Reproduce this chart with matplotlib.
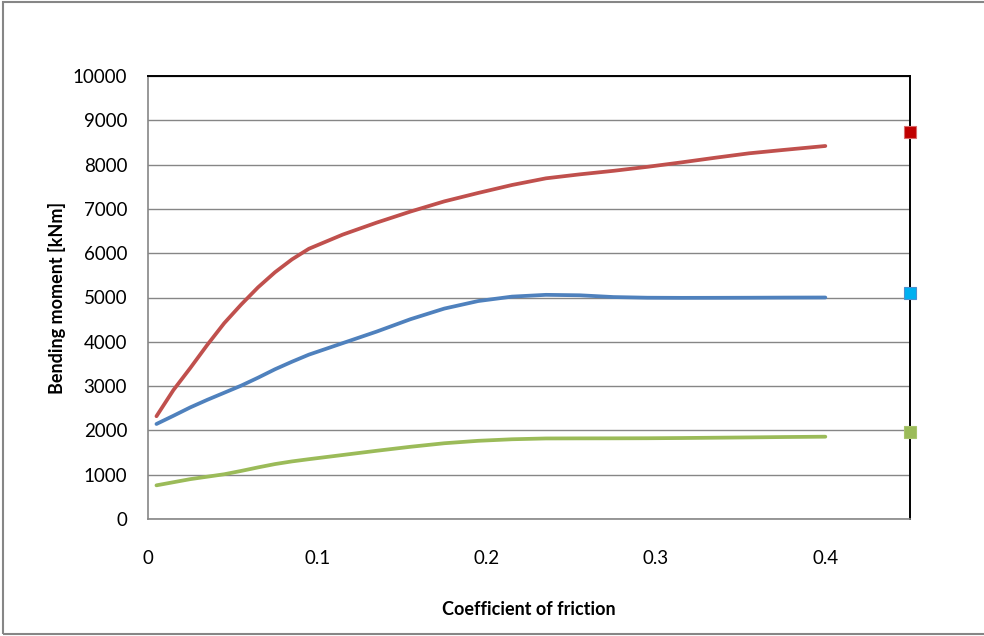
import matplotlib
matplotlib.use("Agg")
import matplotlib.pyplot as plt
from matplotlib.patches import Rectangle

# friction coefficient vs bending moment
mu = [0.005, 0.015, 0.025, 0.035, 0.045, 0.055, 0.065, 0.075, 0.085, 0.095,
      0.115, 0.135, 0.155, 0.175, 0.195, 0.215, 0.235, 0.255, 0.275, 0.295,
      0.315, 0.335, 0.355, 0.375, 0.4]
moment_red = [2320, 2910, 3410, 3930, 4420, 4840, 5230, 5570, 5860, 6100,
              6420, 6690, 6940, 7170, 7360, 7540, 7690, 7780, 7860, 7950,
              8050, 8155, 8255, 8330, 8420]
moment_blue = [2145, 2330, 2520, 2690, 2850, 3010, 3190, 3380, 3550, 3710,
               3970, 4230, 4510, 4750, 4920, 5020, 5060, 5050, 5010, 4995,
               4992, 4993, 4995, 4998, 5000]
moment_green = [760, 830, 900, 955, 1010, 1085, 1165, 1240, 1300, 1350,
                1445, 1540, 1630, 1710, 1765, 1800, 1818, 1820, 1821, 1823,
                1828, 1835, 1842, 1850, 1858]

# single reference points plotted at the right-hand edge
ref_x = 0.45
ref_red = 8730
ref_blue = 5100
ref_green = 1970

plt.rcParams["font.family"] = ["Lato", "DejaVu Sans"]

fig = plt.figure(figsize=(9.84, 6.36), dpi=100)
ax = fig.add_axes([148 / 984, 117 / 636, 762 / 984, 443 / 636])

# outer chart-area border (right edge runs off the image)
fig.patches.append(Rectangle((3 / 984, 2 / 636), 1.2, 632 / 636,
                             transform=fig.transFigure, fill=False,
                             edgecolor="#868686", linewidth=1.5, zorder=0))

ax.plot(mu, moment_red, color="#C0504D", linewidth=2.7, solid_capstyle="round")
ax.plot(mu, moment_blue, color="#4F81BD", linewidth=2.7, solid_capstyle="round")
ax.plot(mu, moment_green, color="#9BBB59", linewidth=2.7, solid_capstyle="round")

for val, fc, ec in [(ref_red, "#C00000", "#D96C6C"),
                    (ref_blue, "#00B0F0", "#4A90D0"),
                    (ref_green, "#9BBB59", "#A9C56E")]:
    ax.plot([ref_x], [val], marker="s", markersize=8.5, color=fc,
            markeredgecolor=ec, markeredgewidth=0.8, linestyle="none",
            clip_on=False, zorder=5)

ax.set_xlim(0, 0.45)
ax.set_ylim(0, 10000)
ax.set_xticks([0, 0.1, 0.2, 0.3, 0.4])
ax.set_xticklabels(["0", "0.1", "0.2", "0.3", "0.4"])
ax.set_yticks(range(0, 10001, 1000))

ax.grid(axis="y", color="#868686", linewidth=1.0)
ax.set_axisbelow(True)
ax.tick_params(length=0, labelsize=13.5, colors="#000000")
ax.tick_params(axis="y", pad=15)
ax.tick_params(axis="x", pad=22)

for side in ("left", "bottom"):
    ax.spines[side].set_color("#868686")
    ax.spines[side].set_linewidth(1.2)
for side in ("top", "right"):
    ax.spines[side].set_color("#000000")
    ax.spines[side].set_linewidth(1.4)

ax.set_xlabel("Coefficient of friction", fontsize=13, fontweight="bold",
              labelpad=25)
ax.set_ylabel("Bending moment [kNm]", fontsize=13, fontweight="bold",
              labelpad=5)

fig.savefig("out.png", dpi=100)
